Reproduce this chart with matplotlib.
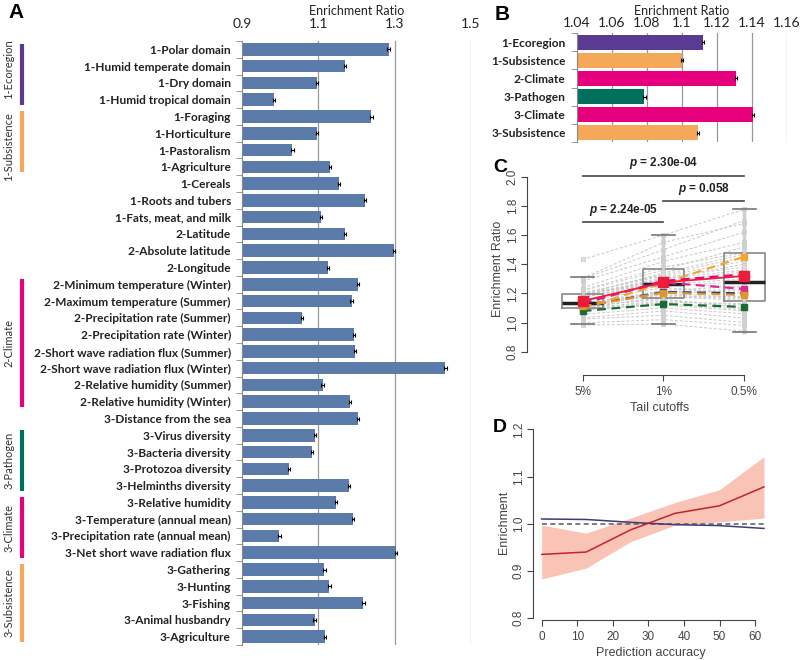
import matplotlib
matplotlib.use('Agg')
import matplotlib.pyplot as plt
import matplotlib.transforms as mtransforms
import numpy as np

plt.rcParams['font.family'] = ['Liberation Sans', 'DejaVu Sans']
plt.rcParams['mathtext.fontset'] = 'custom'
plt.rcParams['mathtext.it'] = 'Liberation Sans:bold:italic'

# ---- panel A : enrichment ratio per trait (5% tail)
traits = [
    '1-Polar domain', '1-Humid temperate domain', '1-Dry domain', '1-Humid tropical domain',
    '1-Foraging', '1-Horticulture', '1-Pastoralism', '1-Agriculture', '1-Cereals',
    '1-Roots and tubers', '1-Fats, meat, and milk', '2-Latitude', '2-Absolute latitude',
    '2-Longitude', '2-Minimum temperature (Winter)', '2-Maximum temperature (Summer)',
    '2-Precipitation rate (Summer)', '2-Precipitation rate (Winter)',
    '2-Short wave radiation flux (Summer)', '2-Short wave radiation flux (Winter)',
    '2-Relative humidity (Summer)', '2-Relative humidity (Winter)', '3-Distance from the sea',
    '3-Virus diversity', '3-Bacteria diversity', '3-Protozoa diversity', '3-Helminths diversity',
    '3-Relative humidity', '3-Temperature (annual mean)', '3-Precipitation rate (annual mean)',
    '3-Net short wave radiation flux', '3-Gathering', '3-Hunting', '3-Fishing',
    '3-Animal husbandry', '3-Agriculture',
]
ratio_5 = [1.284, 1.170, 1.096, 0.983, 1.239, 1.096, 1.032, 1.131, 1.155, 1.223, 1.107,
           1.170, 1.299, 1.126, 1.203, 1.187, 1.057, 1.193, 1.196, 1.433, 1.111, 1.183,
           1.203, 1.091, 1.084, 1.024, 1.181, 1.146, 1.190, 0.998, 1.304, 1.116, 1.129,
           1.218, 1.090, 1.118]
ratio_err = 0.003

# trait groups (name, first row, last row, colour)
group_names = ['1-Ecoregion', '1-Subsistence', '2-Climate', '3-Pathogen', '3-Climate', '3-Subsistence']
group_first = [0, 4, 14, 23, 27, 31]
group_last = [3, 7, 21, 26, 30, 35]
group_colors = ['#5b3a93', '#f5a85a', '#e6007e', '#00705e', '#e6007e', '#f5a85a']

# ---- panel B : per group
b_labels = ['1-Ecoregion', '1-Subsistence', '2-Climate', '3-Pathogen', '3-Climate', '3-Subsistence']
b_values = [1.1124, 1.1004, 1.1310, 1.0787, 1.1406, 1.1095]
b_err = [0.0006, 0.0006, 0.0006, 0.0008, 0.0006, 0.0006]

# ---- panel C : tail cutoffs
cutoffs = ['5%', '1%', '0.5%']
ratio_1 = [1.45, 1.30, 1.18, 0.99, 1.42, 1.15, 1.08, 1.22, 1.26, 1.38, 1.17, 1.28, 1.50,
           1.20, 1.33, 1.31, 1.10, 1.29, 1.27, 1.60, 1.16, 1.30, 1.32, 1.14, 1.13, 1.05,
           1.25, 1.24, 1.34, 1.02, 1.55, 1.19, 1.21, 1.36, 1.12, 1.20]
ratio_05 = [1.62, 1.40, 1.15, 0.94, 1.55, 1.12, 1.03, 1.25, 1.30, 1.48, 1.18, 1.35, 1.70,
            1.22, 1.45, 1.38, 1.06, 1.33, 1.24, 1.777, 1.10, 1.36, 1.42, 1.13, 1.09, 1.00,
            1.28, 1.20, 1.47, 0.98, 1.68, 1.16, 1.23, 1.52, 1.08, 1.17]
box_q1 = [1.098, 1.170, 1.148]
box_med = [1.136, 1.262, 1.276]
box_q3 = [1.196, 1.365, 1.475]
box_lo = [0.988, 0.988, 0.935]
box_hi = [1.310, 1.600, 1.777]
group_lines = {
    'eco1': ([1.112, 1.210, 1.200], '#2e3a87'),
    'sub1': ([1.100, 1.270, 1.452], '#f7a531'),
    'cli2': ([1.131, 1.285, 1.331], '#e6007e'),
    'pat3': ([1.079, 1.127, 1.107], '#1a6b35'),
    'cli3': ([1.141, 1.275, 1.230], '#dd2a8c'),
    'sub3': ([1.110, 1.205, 1.189], '#e0962a'),
}
mean_line = [1.148, 1.276, 1.319]
p_texts = ['2.24e-05', '0.058', '2.30e-04']

# ---- panel D : prediction accuracy
accuracy = [0, 12.5, 25, 37.5, 50, 62.5]
enrich_obs = [0.935, 0.940, 0.987, 1.022, 1.038, 1.078]
enrich_hi = [0.997, 0.980, 1.012, 1.045, 1.072, 1.142]
enrich_lo = [0.883, 0.906, 0.962, 0.997, 1.004, 1.012]
enrich_null = [1.010, 1.009, 1.003, 0.998, 0.996, 0.990]

fig = plt.figure(figsize=(8, 6.6), dpi=100)
bar_font = ['Lato', 'DejaVu Sans']
txt = '#222222'

# ================= A
axA = fig.add_axes([242 / 800, 1 - 645 / 660, 229 / 800, 604 / 660])
yA = np.arange(len(traits))
axA.barh(yA, np.array(ratio_5) - 0.9, left=0.9, height=0.75, color='#5b7bab',
         xerr=ratio_err, error_kw=dict(ecolor='black', elinewidth=0.8, capsize=1.5, capthick=0.8))
axA.set_xlim(0.9, 1.5)
axA.set_ylim(len(traits) - 0.5, -0.5)
axA.set_xticks([0.9, 1.1, 1.3, 1.5])
axA.set_xticklabels(['0.9', '1.1', '1.3', '1.5'], fontfamily=bar_font, fontsize=10, color=txt)
axA.xaxis.tick_top()
axA.tick_params(axis='x', length=0, pad=8)
axA.set_xlabel('Enrichment Ratio', fontfamily=bar_font, fontsize=9, color=txt, labelpad=2)
axA.xaxis.set_label_position('top')
axA.set_yticks(yA)
axA.set_yticklabels(traits, fontfamily=bar_font, fontweight='bold', fontsize=8.6, color=txt)
axA.set_yticks(np.arange(-0.5, len(traits)), minor=True)
axA.tick_params(axis='y', which='major', length=0, pad=8)
axA.tick_params(axis='y', which='minor', length=4, color='#888888')
for s in ['top', 'right', 'bottom']:
    axA.spines[s].set_visible(False)
axA.spines['left'].set_color('#888888')
for g in [1.1, 1.3, 1.5]:
    axA.axvline(g, color='#999999', lw=0.9, zorder=0)

tr = mtransforms.blended_transform_factory(fig.transFigure, axA.transData)
for name, a, b, c in zip(group_names, group_first, group_last, group_colors):
    axA.plot([22 / 800, 22 / 800], [a - 0.3, b + 0.3], color=c, lw=3, transform=tr, clip_on=False,
             solid_capstyle='butt')
    mid = (a + b) / 2
    if name == '1-Ecoregion':
        mid -= 0.3
    elif name == '1-Subsistence':
        mid += 0.3
    axA.text(9 / 800, mid, name, rotation=90, ha='center', va='center', fontsize=8,
             fontfamily=bar_font, color='#333333', transform=tr)

fig.text(8 / 800, 1 - 13 / 660, 'A', fontsize=15, fontweight='bold', ha='left', va='center')

# ================= B
axB = fig.add_axes([576.7 / 800, 1 - 142 / 660, 210 / 800, 109 / 660])
yB = np.arange(len(b_labels))
axB.barh(yB, np.array(b_values) - 1.04, left=1.04, height=0.83, color=group_colors,
         xerr=b_err, error_kw=dict(ecolor='black', elinewidth=0.8, capsize=1.5, capthick=0.8))
axB.set_xlim(1.04, 1.16)
axB.set_ylim(len(b_labels) - 0.5, -0.5)
bt = [1.04, 1.06, 1.08, 1.10, 1.12, 1.14, 1.16]
axB.set_xticks(bt)
axB.set_xticklabels(['1.04', '1.06', '1.08', '1.1', '1.12', '1.14', '1.16'], fontfamily=bar_font,
                    fontsize=10, color=txt)
axB.xaxis.tick_top()
axB.tick_params(axis='x', length=0, pad=3)
axB.set_xlabel('Enrichment Ratio', fontfamily=bar_font, fontsize=9, color=txt, labelpad=1)
axB.xaxis.set_label_position('top')
axB.set_yticks(yB)
axB.set_yticklabels(b_labels, fontfamily=bar_font, fontweight='bold', fontsize=8.6, color=txt)
axB.set_yticks(np.arange(-0.5, len(b_labels)), minor=True)
axB.tick_params(axis='y', which='major', length=0, pad=8)
axB.tick_params(axis='y', which='minor', length=4, color='#888888')
for s in ['top', 'right', 'bottom']:
    axB.spines[s].set_visible(False)
axB.spines['left'].set_color('#888888')
for g in bt[1:]:
    axB.axvline(g, color='#999999', lw=0.9, zorder=0)
fig.text(495 / 800, 1 - 14 / 660, 'B', fontsize=15, fontweight='bold', ha='left', va='center')

# ================= C
axC = fig.add_axes([527 / 800, 1 - 375 / 660, 265.8 / 800, 212.8 / 660])
xc = [1, 2, 3]
for i in range(len(traits)):
    axC.plot(xc, [ratio_5[i], ratio_1[i], ratio_05[i]], color='#c8c8c8', lw=0.7, ls=(0, (3, 2)),
             zorder=1)
for j, col in enumerate([ratio_5, ratio_1, ratio_05]):
    axC.plot([xc[j]] * len(col), col, ls='none', marker='s', ms=3.5, mfc='#e2e2e2', mec='#cccccc',
             mew=0.6, zorder=2)

stats = []
for j in range(3):
    stats.append(dict(med=box_med[j], q1=box_q1[j], q3=box_q3[j], whislo=box_lo[j],
                      whishi=box_hi[j], fliers=[]))
axC.bxp(stats, positions=xc, widths=0.5, showfliers=False, patch_artist=False,
        boxprops=dict(color='#888888', lw=1.2),
        medianprops=dict(color='#222222', lw=2.5),
        whiskerprops=dict(color='#cfcfcf', lw=2.5),
        capprops=dict(color='#777777', lw=1.2), capwidths=0.28, zorder=3)

for key, (vals, c) in group_lines.items():
    axC.plot(xc, vals, color=c, lw=1.6, ls=(0, (4, 2.5)), marker='s', ms=4.5, zorder=4)
axC.plot(xc, mean_line, color='#ee1c3c', lw=1.3, marker='s', ms=7, zorder=5)

axC.set_xlim(0.311, 3.6)
axC.set_ylim(0.64, 2.1)
axC.set_yticks([0.8, 1.0, 1.2, 1.4, 1.6, 1.8, 2.0])
axC.set_yticklabels(['0.8', '1.0', '1.2', '1.4', '1.6', '1.8', '2.0'], rotation=90, va='center',
                    fontsize=8.5, color='#444444')
axC.set_xticks(xc)
axC.set_xticklabels(cutoffs, fontsize=8.5, color='#444444')
axC.spines['left'].set_bounds(0.8, 2.0)
axC.spines['bottom'].set_bounds(1, 3)
for s in ['top', 'right']:
    axC.spines[s].set_visible(False)
for s in ['left', 'bottom']:
    axC.spines[s].set_color('#444444')
axC.tick_params(colors='#444444', length=4, pad=2)
axC.tick_params(axis='x', pad=4)
axC.set_ylabel('Enrichment Ratio', fontsize=9, color='#444444', labelpad=2)
axC.set_xlabel('Tail cutoffs', fontsize=9, color='#444444', labelpad=3)

brackets = [(1.0, 2.0, 1.688), (2.0, 3.0, 1.834), (1.0, 3.0, 2.007)]
for (x0, x1, yy), p in zip(brackets, p_texts):
    axC.plot([x0, x1], [yy, yy], color='#444444', lw=1.2, clip_on=False)
    axC.text((x0 + x1) / 2, yy + 0.03, '$p$ = ' + p, ha='center', va='bottom', fontsize=8.5,
             fontweight='bold', color='#222222', clip_on=False)
fig.text(493 / 800, 1 - 167 / 660, 'C', fontsize=14, fontweight='bold', ha='left', va='center')

# ================= D
axD = fig.add_axes([533 / 800, 1 - 620 / 660, 236.3 / 800, 195.4 / 660])
axD.fill_between(accuracy, enrich_lo, enrich_hi, color='#f9c3b5', lw=0)
axD.plot([0, 62.5], [1.0, 1.0], color='#666666', lw=1.2, ls=(0, (3, 2)))
axD.plot(accuracy, enrich_null, color='#3b3b7d', lw=1.1)
axD.plot(accuracy, enrich_obs, color='#c0242c', lw=1.1)
axD.set_xlim(-2.45, 64)
axD.set_ylim(0.796, 1.21)
axD.set_yticks([0.8, 0.9, 1.0, 1.1, 1.2])
axD.set_yticklabels(['0.8', '0.9', '1.0', '1.1', '1.2'], rotation=90, va='center', fontsize=8.5,
                    color='#444444')
axD.set_xticks([0, 10, 20, 30, 40, 50, 60])
axD.set_xticklabels(['0', '10', '20', '30', '40', '50', '60'], fontsize=8.5, color='#444444')
axD.spines['left'].set_bounds(0.8, 1.2)
axD.spines['bottom'].set_bounds(0, 60)
for s in ['top', 'right']:
    axD.spines[s].set_visible(False)
for s in ['left', 'bottom']:
    axD.spines[s].set_color('#444444')
axD.tick_params(colors='#444444', length=4, pad=2)
axD.tick_params(axis='x', pad=4)
axD.set_ylabel('Enrichment', fontsize=9, color='#444444', labelpad=2)
axD.set_xlabel('Prediction accuracy', fontsize=9, color='#444444', labelpad=3)
fig.text(493 / 800, 1 - 428 / 660, 'D', fontsize=14, fontweight='bold', ha='left', va='center')

fig.savefig('out.png', dpi=100)
